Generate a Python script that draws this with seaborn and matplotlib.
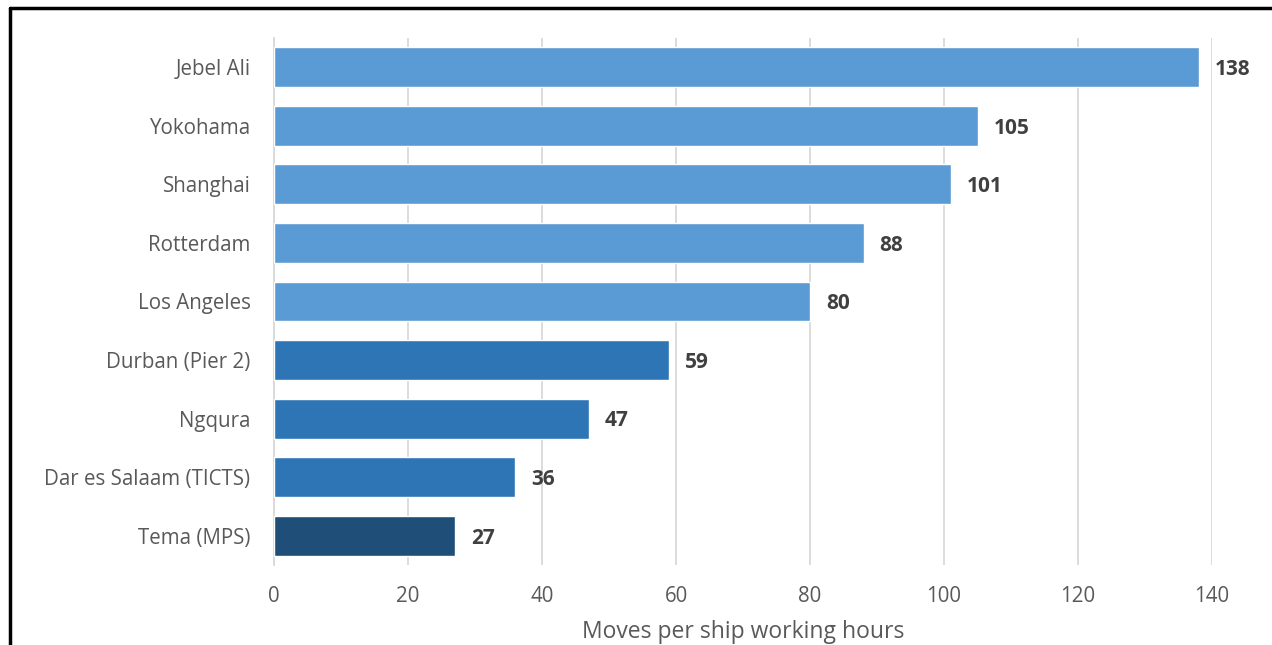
import matplotlib
matplotlib.use("Agg")
import matplotlib.pyplot as plt
import seaborn as sns
import pandas as pd
from matplotlib.lines import Line2D

ports = ["Jebel Ali", "Yokohama", "Shanghai", "Rotterdam", "Los Angeles",
         "Durban (Pier 2)", "Ngqura", "Dar es Salaam (TICTS)", "Tema (MPS)"]
moves = [138, 105, 101, 88, 80, 59, 47, 36, 27]
colors = ["#5B9BD5"] * 5 + ["#2E75B6"] * 3 + ["#1F4E79"]
xticks = [0, 20, 40, 60, 80, 100, 120, 140]
xlabel = "Moves per ship working hours"

sns.set_theme(style="white")
plt.rcParams['font.family'] = ['Open Sans', 'DejaVu Sans']

df = pd.DataFrame({"port": ports, "moves": moves})
fig = plt.figure(figsize=(12.72, 6.45), dpi=100)
ax = fig.add_axes([274/1272, 1-565/645, (1212-274)/1272, (565-38)/645])

sns.barplot(data=df, y="port", x="moves", hue="port", palette=colors,
            orient="h", width=0.68, legend=False, ax=ax, saturation=1, zorder=3)

ax.set_xlim(0, 140)
ax.set_ylim(8.5, -0.5)
ax.set_xticks(xticks)
ax.grid(axis="x", color="#D9D9D9", linewidth=1.3, zorder=0)
ax.set_axisbelow(True)
for s in ["top", "right", "bottom"]:
    ax.spines[s].set_visible(False)
ax.spines["left"].set_color("#D9D9D9")
ax.spines["left"].set_linewidth(1.3)
ax.tick_params(axis="both", length=0, colors="#595959", labelsize=14.8)
ax.tick_params(axis="x", pad=15)
ax.tick_params(axis="y", pad=17)
ax.set_ylabel("")
ax.set_xlabel(xlabel, fontsize=16.5, color="#595959", labelpad=9.5)

for i, v in enumerate(moves):
    ax.text(v + 2.4, i + 0.04, str(v), va="center", ha="left", fontsize=15,
            fontweight="bold", color="#404040")

fig.add_artist(Line2D([10/1272, 10/1272], [0, 1-8/645], color="black", lw=2.5,
                      transform=fig.transFigure))
fig.add_artist(Line2D([10/1272, 1], [1-8/645, 1-8/645], color="black", lw=2.5,
                      transform=fig.transFigure))

fig.savefig("out.png", dpi=100)
